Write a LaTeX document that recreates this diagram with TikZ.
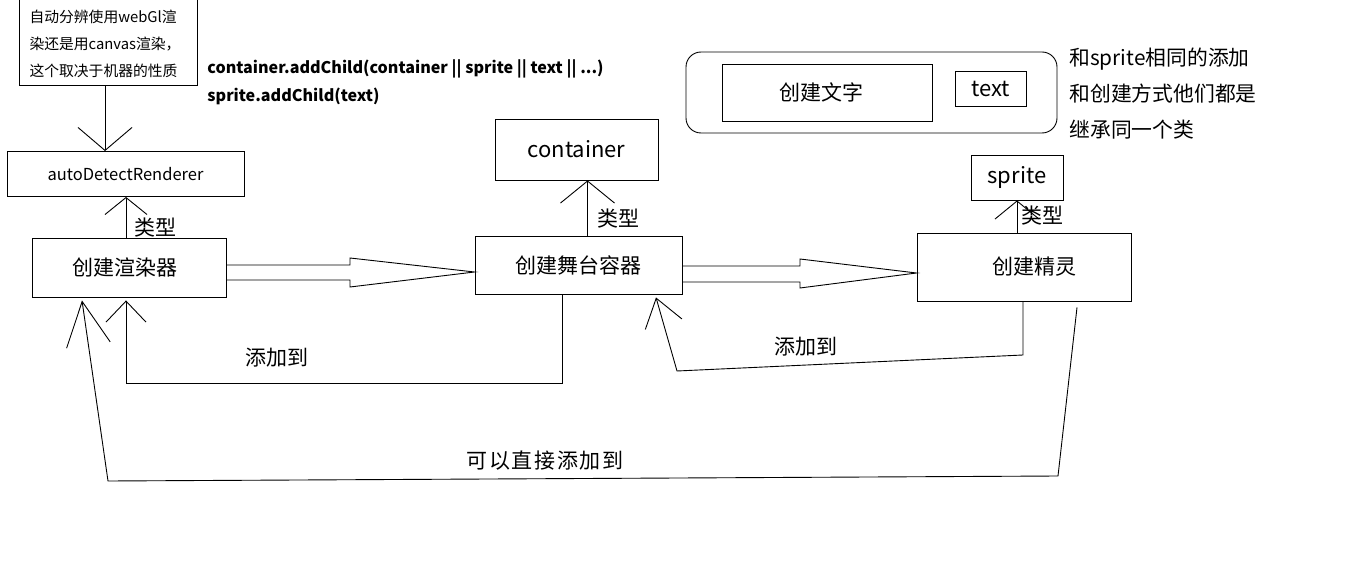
\documentclass[tikz,border=0pt]{standalone}
\usepackage{fontspec}
\setmainfont{Noto Sans CJK SC}
\usetikzlibrary{arrows.meta,calc}
\begin{document}
\begin{tikzpicture}[x=1pt,y=-1pt,line width=0.9pt,
  box/.style={draw,inner sep=0pt},
  lbl/.style={inner sep=0pt,font=\fontsize{21}{24}\selectfont},
  latin/.style={inner sep=0pt,font=\fontsize{22}{24}\selectfont},
  barb/.style n args={2}{-{Straight Barb[length=#1pt,width=#2pt]}},
  hollow/.style={draw,line join=miter}]
\useasboundingbox[fill=white] (0,0) rectangle (1360,572);

% boxes
\node[box,minimum width=178pt,minimum height=88pt] (note) at (108,41) {};
\node[align=left,inner sep=0pt,font=\fontsize{14.8}{27}\selectfont] (notetxt) at ($(note.center)+(-3,3)$)
  {自动分辨使用webGl渲\\染还是用canvas渲染，\\这个取决于机器的性质};
\node[box,minimum width=237pt,minimum height=45pt,font=\fontsize{16.5}{19}\selectfont] (adr) at (125.5,174) {autoDetectRenderer};
\node[box,lbl,minimum width=194pt,minimum height=59pt] (r) at (129,267.5) {\hspace*{-8pt}创建渲染器};
\node[box,lbl,minimum width=207pt,minimum height=58pt] (s) at (578.5,265) {创建舞台容器};
\node[box,lbl,minimum width=214pt,minimum height=68pt,text width=214pt,align=center] (sp) at (1024,267) {\hspace*{20pt}创建精灵};
\node[box,latin,minimum width=163pt,minimum height=61pt] (c) at (576.5,149.5) {container};
\node[box,latin,minimum width=92pt,minimum height=45pt] (spr) at (1017,177.5) {sprite};
\node[draw,rounded corners=15pt,minimum width=371pt,minimum height=81pt,inner sep=0pt] (grp) at (871.5,92.5) {};
\node[box,lbl,minimum width=210pt,minimum height=57pt] (wz) at (827,92.5) {\hspace*{-12pt}创建文字};
\node[box,latin,minimum width=71pt,minimum height=35pt] (tx) at (990.5,88.5) {text};

% free texts
\node[anchor=west,align=left,inner sep=0pt,font=\fontsize{20.8}{36}\selectfont] (side) at (1069,94)
  {和sprite相同的添加\\和创建方式他们都是\\继承同一个类};
\node[anchor=west,align=left,inner sep=0pt,font=\bfseries\fontsize{16.1}{28}\selectfont] (code) at (207,82)
  {container.addChild(container || sprite || text || ...)\\sprite.addChild(text)};

% type arrows
\draw[barb={23}{54}] ([xshift=-3pt]note.south) -- ([xshift=-3pt]note.south |- adr.north);
\draw[barb={17}{42}] ([xshift=-3pt]r.north) -- ([xshift=-3pt]r.north |- adr.south);
\node[lbl] (t1) at (155,228) {类型};
\draw[barb={22}{54}] ([xshift=9pt]s.north) -- ([xshift=9pt]s.north |- c.south);
\node[lbl] (t2) at (618,219) {类型};
\draw[barb={18}{44}] (sp.north -| spr.south) -- (spr.south);
\node[lbl] (t3) at (1042,216) {类型};

% hollow block arrows
\draw[hollow] ($(r.east)+(0,-2.5)$) -- (350,265) -- (350,258) -- ($(s.west)+(0,7)$)
  -- (350,287) -- (350,280) -- ($(r.east)+(0,12.5)$);
\draw[hollow] ($(s.east)+(0,1)$) -- (800,266) -- (800,259) -- ($(sp.west)+(0,6)$)
  -- (800,288) -- (800,282) -- ($(s.east)+(0,17)$);

% add-to connectors
\coordinate (a1) at (126,383);
\draw[barb={21}{40}] ([xshift=-16.5pt]s.south) |- (a1) -- ([yshift=-3pt]a1 |- r.south);
\node[lbl] (l1) at (277,358) {添加到};
\coordinate (b1) at (1023,355);
\coordinate (b2) at (677,371);
\draw[barb={27}{38}] (b1 |- sp.south) -- (b1) -- (b2) -- ([xshift=77.5pt,yshift=-3pt]s.south);
\node[lbl] (l2) at (806,347) {添加到};
\coordinate (c1) at (1058,476);
\coordinate (c2) at (108,481);
\draw[barb={44}{44}] ([xshift=53pt,yshift=-6pt]sp.south) -- (c1) -- (c2) -- ([xshift=-47pt,yshift=-3pt]r.south);
\node[lbl,font=\fontsize{21}{24}\selectfont\addfontfeature{LetterSpace=8}] (l3) at (545,461) {可以直接添加到};
\end{tikzpicture}
\end{document}
